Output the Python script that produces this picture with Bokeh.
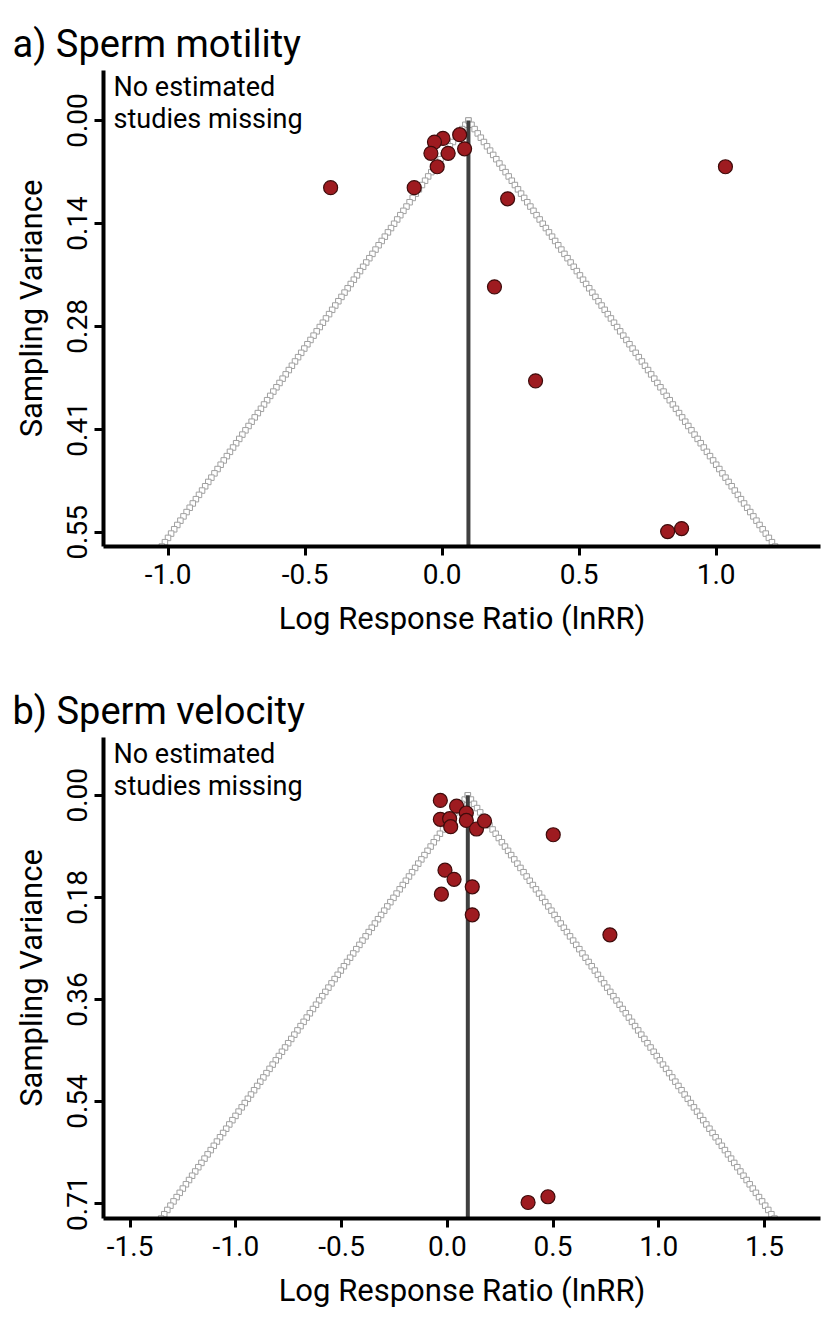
import numpy as np
from bokeh.plotting import figure
from bokeh.models import Range1d, FixedTicker, Label
from bokeh.layouts import column
from bokeh.embed import file_html
from bokeh.resources import INLINE

# ---------------- data ----------------
# Panel a: Sperm motility
a_lnrr = [0.003, -0.028, 0.064, -0.041, 0.022, 0.082, -0.018, -0.102, -0.407,
          0.239, 1.034, 0.191, 0.341, 0.823, 0.874]
a_se = [0.024, 0.029, 0.019, 0.044, 0.044, 0.038, 0.062, 0.090, 0.090,
        0.105, 0.062, 0.223, 0.349, 0.551, 0.547]
a_center = 0.096
a_xticks = [-1.0, -0.5, 0.0, 0.5, 1.0]
a_xtick_labels = ["-1.0", "-0.5", "0.0", "0.5", "1.0"]
a_yticks = [0.0, 0.138, 0.276, 0.414, 0.552]
a_ytick_labels = ["0.00", "0.14", "0.28", "0.41", "0.55"]

# Panel b: Sperm velocity
b_lnrr = [-0.033, 0.044, 0.090, -0.033, 0.011, 0.016, 0.090, 0.138, 0.176,
          0.501, -0.011, 0.032, -0.028, 0.118, 0.118, 0.769, 0.382, 0.476]
b_se = [0.009, 0.019, 0.031, 0.042, 0.041, 0.055, 0.044, 0.059, 0.045,
        0.069, 0.131, 0.147, 0.173, 0.160, 0.209, 0.244, 0.712, 0.702]
b_center = 0.097
b_xticks = [-1.5, -1.0, -0.5, 0.0, 0.5, 1.0, 1.5]
b_xtick_labels = ["-1.5", "-1.0", "-0.5", "0.0", "0.5", "1.0", "1.5"]
b_yticks = [0.0, 0.1785, 0.357, 0.5355, 0.714]
b_ytick_labels = ["0.00", "0.18", "0.36", "0.54", "0.71"]

note_text = "No estimated\nstudies missing"
x_title = "Log Response Ratio (lnRR)"
y_title = "Sampling Variance"

FONT = "Roboto"
POINT_FILL = "#9e1b20"
POINT_LINE = "#3e0b0b"


def make_panel(title, lnrr, se, center, xr, yr, xticks, xlabels, yticks, ylabels,
               height, border_top, border_bottom, title_standoff):
    p = figure(width=822, height=height,
               x_range=Range1d(*xr), y_range=Range1d(yr[1], yr[0]),
               output_backend="svg", toolbar_location=None,
               min_border_left=103, min_border_right=2,
               min_border_top=border_top, min_border_bottom=border_bottom)
    p.grid.visible = False
    p.outline_line_color = None
    p.background_fill_color = "white"
    p.border_fill_color = "white"

    # title
    p.title.text = title
    p.title.text_font = FONT
    p.title.text_font_size = "38px"
    p.title.text_font_style = "normal"
    p.title.text_color = "black"
    p.title.align = "left"
    p.title.vertical_align = "top"
    p.title.offset = -91
    p.title.standoff = title_standoff

    # funnel (pseudo-confidence region) drawn as chains of small open squares
    ybot = yr[1]
    ys = np.linspace(0, ybot, 100)
    for sgn in (-1, 1):
        p.scatter(x=center + sgn * 1.96 * ys, y=ys, marker="square", size=5.5,
                  fill_color="white", line_color="#a0a0a0", line_width=1)

    # centre line
    p.segment(x0=[center], y0=[0], x1=[center], y1=[ybot],
              line_width=4, line_color="#404040")

    # studies
    p.scatter(x=lnrr, y=se, size=14, fill_color=POINT_FILL,
              line_color=POINT_LINE, line_width=1.2)

    # note
    p.add_layout(Label(x=xr[0], y=yr[0], x_offset=10, text=note_text,
                       text_font=FONT, text_font_size="27px",
                       text_baseline="top", text_align="left",
                       text_line_height=1.03, text_color="black"))

    # axes
    xa = p.xaxis[0]
    xa.ticker = FixedTicker(ticks=xticks)
    xa.major_label_overrides = {t: l for t, l in zip(xticks, xlabels)}
    xa.axis_label = x_title
    ya = p.yaxis[0]
    ya.ticker = FixedTicker(ticks=yticks)
    ya.major_label_overrides = {t: l for t, l in zip(yticks, ylabels)}
    ya.axis_label = y_title
    ya.major_label_orientation = "vertical"

    for ax in (xa, ya):
        ax.axis_line_width = 4
        ax.axis_line_color = "black"
        ax.major_tick_line_width = 3
        ax.major_tick_line_color = "black"
        ax.major_tick_in = 0
        ax.major_tick_out = 9
        ax.minor_tick_line_color = None
        ax.major_label_text_font = FONT
        ax.major_label_text_font_size = "28px"
        ax.major_label_text_color = "black"
        ax.axis_label_text_font = FONT
        ax.axis_label_text_font_size = "31px"
        ax.axis_label_text_font_style = "normal"
        ax.axis_label_text_color = "black"
    xa.major_label_standoff = 8
    xa.axis_label_standoff = 13
    ya.major_label_standoff = 7
    ya.axis_label_standoff = 15
    return p


pa = make_panel("a) Sperm motility", a_lnrr, a_se, a_center,
                (-1.236, 1.381), (-0.067, 0.571),
                a_xticks, a_xtick_labels, a_yticks, a_ytick_labels,
                height=676, border_top=70, border_bottom=130, title_standoff=5)
pb = make_panel("b) Sperm velocity", b_lnrr, b_se, b_center,
                (-1.626, 1.765), (-0.101, 0.740),
                b_xticks, b_xtick_labels, b_yticks, b_ytick_labels,
                height=637, border_top=61, border_bottom=95, title_standoff=5)

layout = column(pa, pb, spacing=0)
open("out.html", "w").write(file_html(layout, INLINE))
